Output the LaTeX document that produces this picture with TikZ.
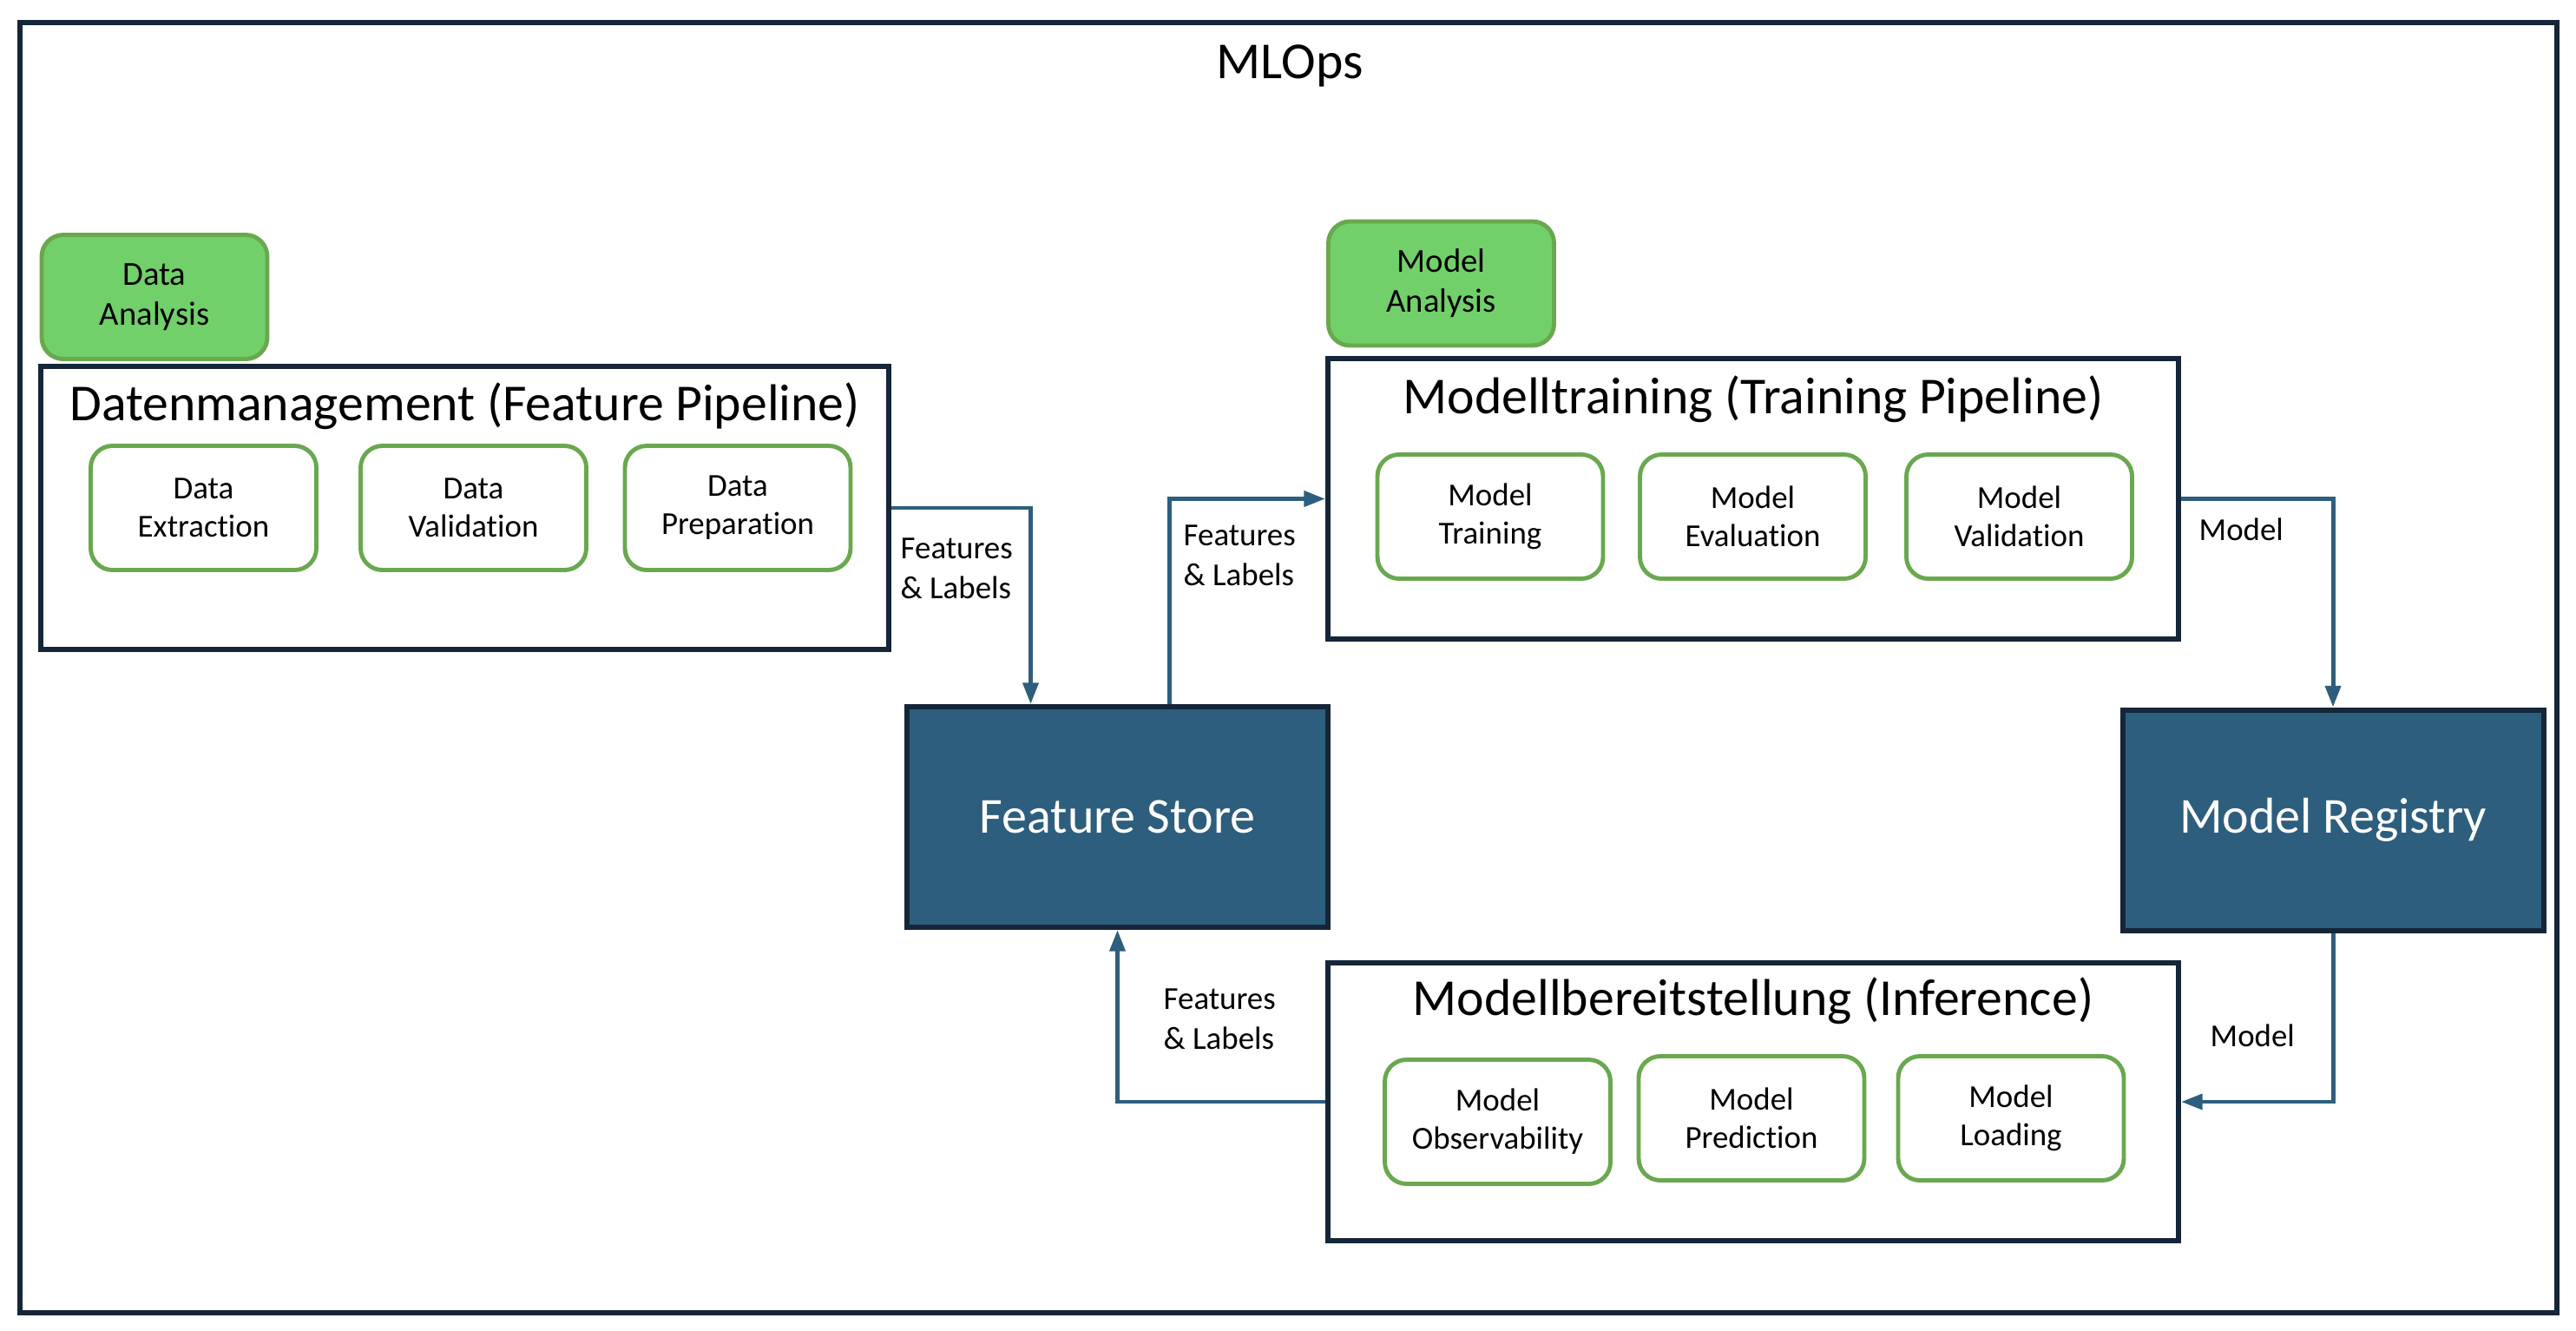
\documentclass[tikz,border=0pt]{standalone}
\usepackage{fontspec}
\setmainfont{Carlito}[Ligatures=CommonOff]
\usetikzlibrary{arrows.meta}
\definecolor{navy}{RGB}{20,38,56}
\definecolor{storeblue}{RGB}{46,94,126}
\definecolor{lightgreen}{RGB}{114,208,106}
\definecolor{darkgreen}{RGB}{106,168,79}

\begin{document}
\begin{tikzpicture}[
  pipe/.style = {draw=navy, line width=1.7pt, minimum width=9.8cm, minimum height=3.23cm},
  task/.style = {draw=darkgreen, line width=1.4pt, rounded corners=0.25cm, minimum width=2.6cm,
                 minimum height=1.43cm, align=center, font=\fontsize{10.5}{12.5}\selectfont},
  ana/.style = {task, fill=lightgreen, font=\fontsize{11}{13}\selectfont},
  store/.style = {draw=navy, fill=storeblue, line width=1.7pt, minimum width=4.85cm,
                  minimum height=2.54cm, text=white, font=\fontsize{16.5}{20}\selectfont},
  head/.style = {font=\fontsize{17}{20}\selectfont},
  lbl/.style = {align=left, anchor=west, inner sep=0pt, font=\fontsize{10.5}{13}\selectfont},
  flow/.style = {draw=storeblue, line width=1.4pt, -{Triangle[width=5pt,length=7pt]}}
]
\useasboundingbox (0,0) rectangle (29.68,-15.32);
\draw[navy, line width=1.5pt] (0.23,-0.26) rectangle (29.46,-15.12);
\node[head] (mlops) at (14.86,-0.76) {MLOps};

% feature pipeline
\node[ana] (dataana) at (1.78,-3.42) {Data\\Analysis};
\node[pipe, minimum width=9.77cm, minimum height=3.26cm] (datenm) at (5.355,-5.85) {};
\node[head] (datenm-t) at (5.355,-4.68) {Datenmanagement (Feature Pipeline)};
\node[task] (extract) at (2.345,-5.85) {Data\\Extraction};
\node[task] (dvalid) at (5.455,-5.85) {Data\\Validation};
\node[task] (prep) at (8.50,-5.85) {Data\\Preparation};

% training pipeline
\node[ana] (modana) at (16.605,-3.265) {Model\\Analysis};
\node[pipe] (modtrain) at (20.20,-5.745) {};
\node[head] (modtrain-t) at (20.20,-4.60) {Modelltraining (Training Pipeline)};
\node[task] (mtrain) at (17.17,-5.95) {Model\\Training};
\node[task] (meval) at (20.195,-5.95) {Model\\Evaluation};
\node[task] (mvalid) at (23.265,-5.95) {Model\\Validation};

% stores
\node[store] (fs) at (12.875,-9.41) {Feature Store};
\node[store] (mr) at (26.88,-9.445) {Model Registry};

% inference
\node[pipe, minimum height=3.2cm] (modinf) at (20.20,-12.69) {};
\node[head] (modinf-t) at (20.20,-11.53) {Modellbereitstellung (Inference)};
\node[task] (mobs) at (17.255,-12.92) {Model\\Observability};
\node[task] (mpred) at (20.18,-12.88) {Model\\Prediction};
\node[task] (mload) at (23.17,-12.88) {Model\\Loading};

% labels
\node[lbl] (fl1) at (10.37,-6.55) {Features\\\& Labels};
\node[lbl] (fl2) at (13.63,-6.40) {Features\\\& Labels};
\node[lbl] (m1) at (25.33,-6.10) {Model};
\node[lbl] (m2) at (25.46,-11.93) {Model};
\node[lbl] (fl3) at (13.40,-11.74) {Features\\\& Labels};

\draw[flow] (datenm.east) -| ([xshift=-1cm]fs.north);
\draw[flow] ([xshift=0.6cm]fs.north) |- (modtrain.west);
\draw[flow] (modtrain.east) -| (mr.north);
\draw[flow] (mr.south) |- (modinf.east);
\draw[flow] (modinf.west) -| (fs.south);
\end{tikzpicture}
\end{document}
